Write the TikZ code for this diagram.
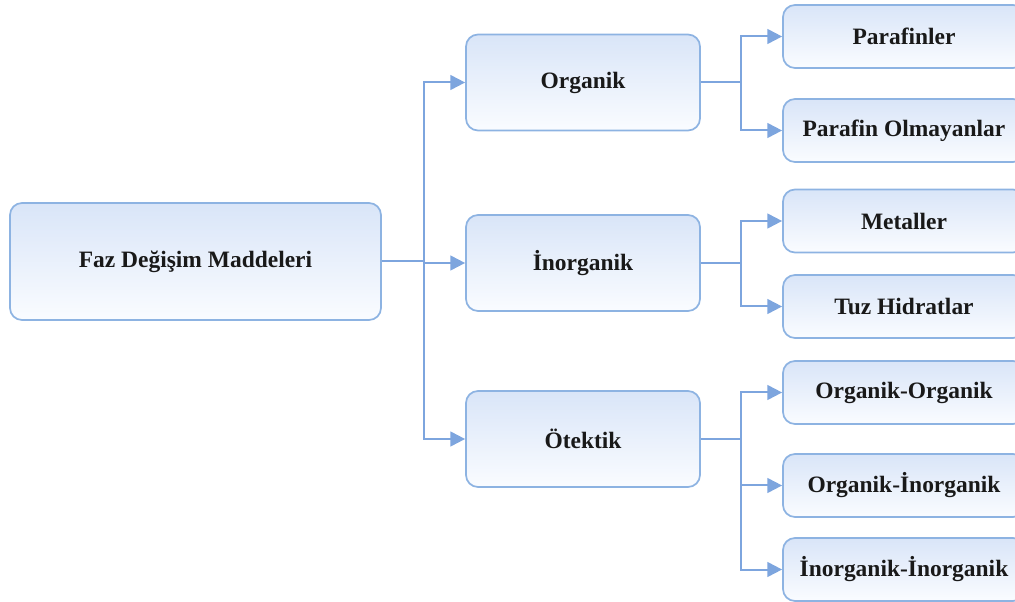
\documentclass[tikz,border=0pt]{standalone}
\usepackage{fontspec}
\setmainfont{Liberation Serif}
\usetikzlibrary{arrows.meta}
\definecolor{boxline}{RGB}{141,179,226}
\definecolor{conn}{RGB}{125,165,222}
\definecolor{topfill}{RGB}{217,229,248}
\definecolor{botfill}{RGB}{250,252,255}
\definecolor{txt}{RGB}{25,25,25}
\tikzset{
  box/.style={draw=boxline, line width=1.3pt, rounded corners=9pt,
    top color=topfill, bottom color=botfill, text=txt,
    font=\fontsize{17.6}{20}\selectfont\bfseries, inner sep=0pt},
  mainbox/.style={box, minimum width=278.25pt, minimum height=87.75pt},
  midbox/.style={box, minimum width=175.5pt, minimum height=72pt},
  leafbox/.style={box, minimum width=181.5pt, minimum height=47.25pt},
  conn/.style={draw=conn, line width=1.5pt},
  arr/.style={conn, -{Triangle[length=11pt,width=11pt]}},
}
\begin{document}
\begin{tikzpicture}[x=0.75pt,y=-0.75pt]
\useasboundingbox (0,0) rectangle (1015,602);
\clip (0,0) rectangle (1015,602);
\node[mainbox] (main) at (195.5,261.5) {Faz Değişim Maddeleri};
\node[midbox] (org) at (583,82.5) {Organik};
\node[midbox] (inorg) at (583,263) {İnorganik};
\node[midbox] (otek) at (583,439) {Ötektik};
\node[leafbox] (p1) at (904,36.5) {Parafinler};
\node[leafbox] (p2) at (904,130.5) {Parafin Olmayanlar};
\node[leafbox] (m1) at (904,221) {Metaller};
\node[leafbox] (m2) at (904,306.5) {Tuz Hidratlar};
\node[leafbox] (e1) at (904,392.5) {Organik-Organik};
\node[leafbox] (e2) at (904,485.5) {Organik-İnorganik};
\node[leafbox] (e3) at (904,569.5) {İnorganik-İnorganik};
\coordinate (t0) at (424,261.5);
\coordinate (t1) at (741,82.5);
\coordinate (t2) at (741,263);
\coordinate (t3) at (741,439);
\draw[conn] (main.east) -- (t0);
\draw[arr] (t0) |- (org.west);
\draw[arr] (t0) |- (inorg.west);
\draw[arr] (t0) |- (otek.west);
\draw[conn] (org.east) -- (t1);
\draw[arr] (t1) |- (p1.west);
\draw[arr] (t1) |- (p2.west);
\draw[conn] (inorg.east) -- (t2);
\draw[arr] (t2) |- (m1.west);
\draw[arr] (t2) |- (m2.west);
\draw[conn] (otek.east) -- (t3);
\draw[arr] (t3) |- (e1.west);
\draw[arr] (t3) |- (e2.west);
\draw[arr] (t3) |- (e3.west);
\end{tikzpicture}
\end{document}
